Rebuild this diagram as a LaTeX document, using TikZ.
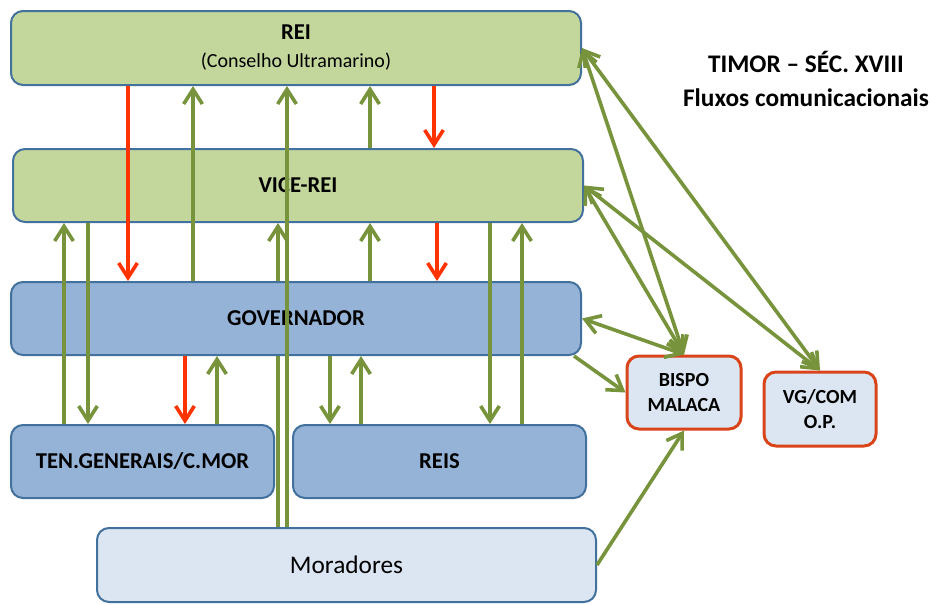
\documentclass[tikz,border=0pt]{standalone}
\usepackage{fontspec}
\setmainfont{Carlito}
\usetikzlibrary{arrows.meta,backgrounds}

\definecolor{boxgreen}{HTML}{C3D69B}
\definecolor{boxblue}{HTML}{95B3D7}
\definecolor{boxlight}{HTML}{DCE6F2}
\definecolor{boxline}{HTML}{41719C}
\definecolor{bispoline}{HTML}{D9441A}
\definecolor{flowgreen}{HTML}{77933C}
\definecolor{orderred}{HTML}{FF3300}

\tikzset{every picture/.style={line width=0.75pt}}
\tikzset{
barb/.tip={Straight Barb[length=11pt,width=14pt]},
box/.style={draw=boxline, line width=1.5pt, rounded corners=9pt, inner sep=0pt, align=center, font=\bfseries\fontsize{17}{20}\selectfont},
smallbox/.style={box, fill=boxlight, draw=bispoline, line width=2.25pt, minimum height=54.75pt, font=\bfseries\fontsize{15}{19}\selectfont},
flow/.style={draw=flowgreen, line width=2.7pt, -barb},
order/.style={draw=orderred, line width=2.7pt, -barb},
flowboth/.style={flow, barb-barb}}

\begin{document}
\begin{tikzpicture}[x=0.75pt,y=0.75pt,yscale=-1,xscale=1]
\useasboundingbox (0,0) rectangle (931,604);

%Rounded Rect: REI
\node[box, fill=boxgreen, minimum width=427.5pt, minimum height=55.5pt] (rei) at (296,48) {REI\\[1pt]{\mdseries\fontsize{15}{18}\selectfont (Conselho Ultramarino)}};
%Rounded Rect: VICE-REI
\node[box, fill=boxgreen, minimum width=427.5pt, minimum height=54.75pt] (vicerei) at (298,185.5) {VICE-REI};
%Rounded Rect: Moradores
\node[box, fill=boxlight, minimum width=374.25pt, minimum height=55.5pt, font=\mdseries\fontsize{19}{22}\selectfont] (mor) at (346.5,565) {Moradores};

%Straight Lines: Moradores up to VICE-REI (behind GOVERNADOR)
\begin{scope}[on background layer]
\draw[flow] (mor.north -| 278,0) -- (vicerei.south -| 278,0);
\end{scope}

%Rounded Rect: GOVERNADOR
\node[box, fill=boxblue, minimum width=427.5pt, minimum height=54.75pt] (gov) at (296,318.5) {GOVERNADOR};
%Rounded Rect: TEN.GENERAIS
\node[box, fill=boxblue, minimum width=197.25pt, minimum height=54.75pt] (ten) at (142.5,461.5) {TEN.GENERAIS/C.MOR};
%Rounded Rect: REIS
\node[box, fill=boxblue, minimum width=219.75pt, minimum height=54.75pt] (reis) at (439.5,461.5) {REIS};
%Rounded Rect: BISPO
\node[smallbox, minimum width=85.5pt] (bispo) at (684,392.5) {BISPO\\MALACA};
%Rounded Rect: VG/COM
\node[smallbox, minimum width=84pt, minimum height=55.5pt] (vgcom) at (820,409) {VG/COM\\O.P.};

% Text Node
\node[font=\bfseries\fontsize{19}{25.5}\selectfont, align=center] (title) at (806,79) {TIMOR – SÉC. XVIII\\Fluxos comunicacionais};

%Straight Lines: REI and VICE-REI
\draw[order] (rei.south -| 128,0) -- (gov.north -| 128,0);
\draw[flow] (gov.north -| 193,0) -- (rei.south -| 193,0);
\draw[flow] (mor.north -| 287,0) -- (rei.south -| 287,0);
\draw[flow] (vicerei.north -| 370,0) -- (rei.south -| 370,0);
\draw[order] (rei.south -| 434,0) -- (vicerei.north -| 434,0);

%Straight Lines: VICE-REI and the boxes below
\foreach \x/\a/\b in {88/vicerei/ten, 490/vicerei/reis}
  \draw[flow] (\a.south -| \x,0) -- (\b.north -| \x,0);
\foreach \x/\a/\b in {64/ten/vicerei, 370/gov/vicerei, 522/reis/vicerei}
  \draw[flow] (\a.north -| \x,0) -- (\b.south -| \x,0);
\draw[order] (vicerei.south -| 437,0) -- (gov.north -| 437,0);

%Straight Lines: GOVERNADOR and the boxes below
\draw[order] (gov.south -| 185,0) -- (ten.north -| 185,0);
\foreach \x/\a/\b in {330/gov/reis}
  \draw[flow] (\a.south -| \x,0) -- (\b.north -| \x,0);
\foreach \x/\a/\b in {217/ten/gov, 361/reis/gov}
  \draw[flow] (\a.north -| \x,0) -- (\b.south -| \x,0);

%Straight Lines: BISPO and VG/COM
\foreach \a in {rei, vicerei}{
  \draw[flowboth] (\a.east) -- (bispo.north);
  \draw[flowboth] (\a.east) -- (vgcom.north);
}
\draw[flowboth] (gov.east) -- (bispo.north);
\draw[flow] ([xshift=-6pt]gov.south east) -- (bispo.west);
\draw[flow] (mor.east) -- (bispo.south);

\end{tikzpicture}
\end{document}
